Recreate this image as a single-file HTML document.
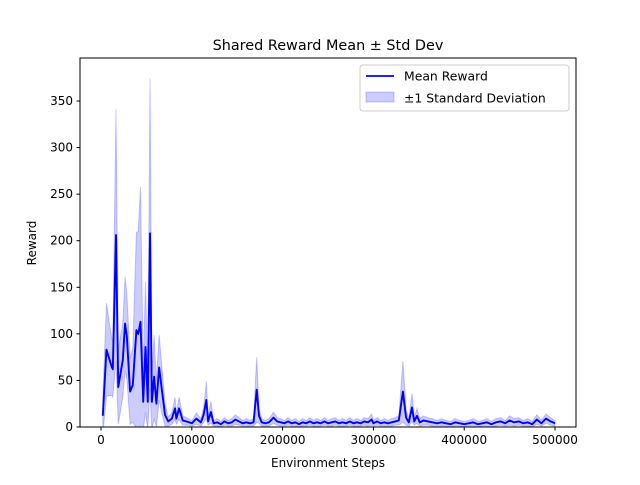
<!DOCTYPE html>
<html><head><meta charset="utf-8"><style>
body{margin:0;background:#fff;}
svg text{font-family:"DejaVu Sans","Liberation Sans",sans-serif;fill:#000;}
</style></head><body>
<svg id="chart" width="640" height="480" viewBox="0 0 640 480">
<rect width="640" height="480" fill="#fff"/>
<defs><clipPath id="clip"><rect x="80" y="58" width="496" height="369"/></clipPath></defs>
<g id="plot" clip-path="url(#clip)"></g>
<rect x="80" y="58" width="496" height="369" fill="none" stroke="#000" stroke-width="1"/>
<g id="axes"></g>
<text x="328" y="50" font-size="14.4" text-anchor="middle">Shared Reward Mean ± Std Dev</text>
<text x="328" y="467" font-size="12" text-anchor="middle">Environment Steps</text>
<text transform="translate(36,243) rotate(-90)" font-size="12" text-anchor="middle">Reward</text>
<g>
<rect x="360" y="65" width="209" height="46" rx="3" fill="#fff" fill-opacity="0.8" stroke="#ccc"/>
<line x1="366" y1="76" x2="394" y2="76" stroke="#0000ff" stroke-width="1.8"/>
<text x="404" y="80.5" font-size="12.4">Mean Reward</text>
<rect x="366" y="92" width="28" height="10" fill="#0000ff" fill-opacity="0.2" stroke="#0000ff" stroke-opacity="0.2"/>
<text x="404" y="102.5" font-size="12.4">±1 Standard Deviation</text>
</g>
</svg>
<script>
const steps=[2000,6000,12000,13000,16500,19000,24000,26500,28500,32000,35000,39000,41000,43500,46500,49000,51500,54000,56000,58500,61000,64000,67000,70500,74000,78000,81500,83000,86000,90000,94000,100000,105000,110000,113000,116000,118000,121000,124000,128000,132000,136000,140000,144000,148000,152000,156000,160000,164000,168000,171500,174000,177000,181000,185000,190000,194000,198000,202000,206000,210000,214000,218000,222000,226000,230000,234000,238000,242000,246000,250000,254000,258000,262000,266000,270000,274000,278000,282000,286000,290000,294000,298000,300000,304000,308000,312000,316000,320000,324000,328000,332500,336000,339000,342500,345000,348000,351000,355000,360000,365000,370000,375000,380000,385000,390000,395000,400000,405000,410000,415000,420000,425000,430000,435000,440000,445000,450000,455000,460000,465000,470000,475000,480000,485000,490000,495000,500000];
const means=[12,83,64,62,206,43,72,111,97,38,45,104,100,113,27,86,27,208,27,54,25,64,40,13,6,9,20,9,20,7,6,4,9,5,13,29,6,16,4,5,3,6,4,5,8,6,4,5,4,5,40,12,5,4,5,10,6,5,4,6,4,5,3,5,4,6,4,5,4,6,4,5,6,4,5,4,6,4,5,4,6,5,8,4,6,4,5,4,5,6,7,38,10,5,21,6,12,5,7,6,5,4,5,4,3,5,4,3,4,5,3,4,5,3,5,6,4,7,5,6,4,5,3,8,4,9,6,4];
const stds=[20,50,30,30,135,40,40,50,45,35,40,105,110,145,30,70,30,166,30,45,25,35,25,12,5,6,12,6,12,5,4,3,6,4,8,20,4,12,3,4,3,4,3,4,5,4,3,4,3,4,35,8,4,3,4,6,4,4,3,4,3,4,3,4,3,4,3,4,3,4,3,4,4,3,4,3,4,3,4,3,4,4,6,3,4,3,4,3,4,4,5,33,8,4,15,4,8,4,5,4,4,3,4,3,3,4,3,3,3,4,3,3,4,3,4,4,3,5,4,4,3,4,3,5,3,5,4,3];
const xTicks=[0,100000,200000,300000,400000,500000];
const yTicks=[0,50,100,150,200,250,300,350];
const X=v=>101+v*0.000908;
const Y=v=>427-v*0.9314;
const NS="http://www.w3.org/2000/svg";
const plot=document.getElementById('plot'),axes=document.getElementById('axes');
function mk(t,a,p){const e=document.createElementNS(NS,t);for(const k in a)e.setAttribute(k,a[k]);p.appendChild(e);return e;}
let up=steps.map((s,i)=>X(s)+','+Y(means[i]+stds[i]));
let lo=steps.map((s,i)=>X(s)+','+Y(means[i]-stds[i])).reverse();
const band=mk('polygon',{points:up.concat(lo).join(' '),fill:'#0000ff','fill-opacity':0.2,stroke:'#0000ff','stroke-opacity':0.2},plot);


const line=mk('polyline',{points:steps.map((s,i)=>X(s)+','+Y(means[i])).join(' '),fill:'none',stroke:'#0000ff','stroke-width':1.9,'stroke-linejoin':'round'},plot);


xTicks.forEach(v=>{
 const t=mk('line',{x1:X(v),x2:X(v),y1:427,y2:430.5,stroke:'#000'},axes);
 
 
 const l=mk('text',{x:X(v),y:444,'font-size':12,'text-anchor':'middle'},axes);l.textContent=v;
 
 
});
yTicks.forEach(v=>{
 const t=mk('line',{x1:76.5,x2:80,y1:Y(v),y2:Y(v),stroke:'#000'},axes);
 
 
 const l=mk('text',{x:73,y:Y(v)+4,'font-size':12,'text-anchor':'end'},axes);l.textContent=v;
 
 
});
</script>
</body></html>
